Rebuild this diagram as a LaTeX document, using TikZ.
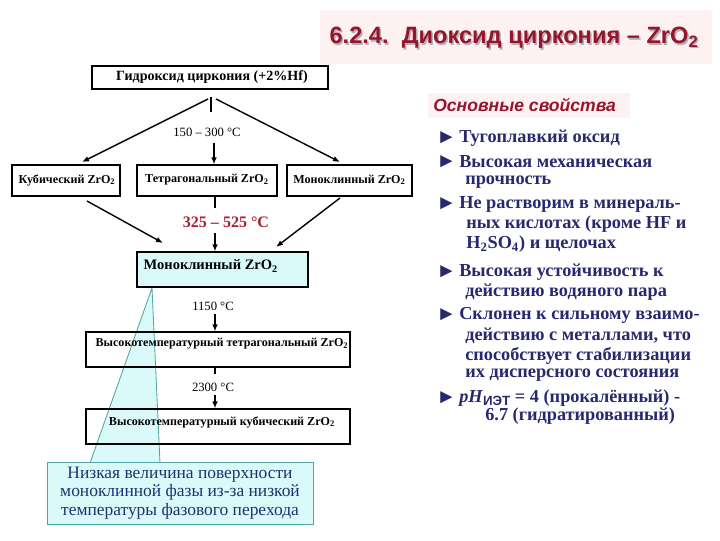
\documentclass[tikz,border=0pt]{standalone}
\usepackage{fontspec}
\setmainfont{Liberation Serif}[BoldFont={Liberation Serif Bold}, ItalicFont={Liberation Serif Italic}, BoldItalicFont={Liberation Serif Bold Italic}]
\setsansfont{Liberation Sans}[BoldFont={Liberation Sans Bold}, ItalicFont={Liberation Sans Italic}, BoldItalicFont={Liberation Sans Bold Italic}]
\usetikzlibrary{arrows.meta}
\definecolor{titlered}{RGB}{150,20,45}
\definecolor{hotred}{RGB}{170,30,50}
\definecolor{pinkbg}{RGB}{253,241,241}
\definecolor{propblue}{RGB}{40,40,110}
\definecolor{noteblue}{RGB}{30,50,115}
\definecolor{cyanfill}{RGB}{218,250,250}
\definecolor{noteline}{RGB}{80,165,165}
\tikzset{
	phasebox/.style={shape=rectangle, draw, line width=0.8pt, inner sep=0pt},
	phasetext/.style={anchor=center, align=center, inner sep=1pt, font=\fontsize{8.6}{10}\selectfont\bfseries},
	templabel/.style={anchor=center, inner sep=1pt, font=\fontsize{9}{11}\selectfont},
	wire/.style={line width=1pt},
	wirearrow/.style={line width=1pt, -{Latex[length=5pt,width=4pt]}},
	propbullet/.style={anchor=west, inner sep=0pt, text=propblue, font=\fontsize{14.5}{16}\selectfont},
	propline/.style={anchor=west, inner sep=0pt, text=propblue, font=\fontsize{13}{15}\selectfont\bfseries},
}
\begin{document}
\begin{tikzpicture}[x=0.025cm, y=-0.025cm]
	\useasboundingbox (0,0) rectangle (720,540);
	% Headings:
	\fill[pinkbg] (320,10) rectangle (712,64);
	\node[anchor=center, inner sep=0pt, text=black!30, font=\fontsize{16.8}{20}\selectfont\sffamily\bfseries] (titleshade) at (515.5,39.5) {6.2.4.\ \ Диоксид циркония – ZrO\textsubscript{2}};
	\node[anchor=center, inner sep=0pt, text=titlered, font=\fontsize{16.8}{20}\selectfont\sffamily\bfseries] (title) at (514,38) {6.2.4.\ \ Диоксид циркония – ZrO\textsubscript{2}};
	\fill[pinkbg] (428,93) rectangle (630,118);
	\node[anchor=west, inner sep=0pt, text=titlered, font=\fontsize{12.5}{15}\selectfont\sffamily\bfseries\itshape] (propshead) at (433,105) {Основные свойства};
	% Callout pointer:
	\coordinate (notetip) at (152,288);
	\coordinate (notebaseL) at (90,463);
	\coordinate (notebaseR) at (160,463);
	\filldraw[fill=cyanfill, draw=noteline, line width=0.6pt] (notetip) -- (notebaseL) -- (notebaseR) -- cycle;
	% Paths, nodes and wires:
	\node[phasebox, minimum width=5.9cm, minimum height=0.575cm] (hydroxide) at (210,77.5){} node[phasetext, font=\fontsize{10}{12}\selectfont\bfseries] (hydroxidetxt) at (212,77){Гидроксид циркония (+2\%Hf)};
	\node[phasebox, minimum width=2.7cm, minimum height=0.775cm] (cubic) at (66,180.5){} node[phasetext] (cubictxt) at (67,180){Кубический ZrO\textsubscript{2}};
	\node[phasebox, minimum width=3.5cm, minimum height=0.775cm] (tetra) at (207,180.5){} node[phasetext] (tetratxt) at (207,180){Тетрагональный ZrO\textsubscript{2}};
	\node[phasebox, minimum width=3.125cm, minimum height=0.775cm] (mono) at (349.5,180.5){} node[phasetext] (monotxt) at (349.5,180){Моноклинный ZrO\textsubscript{2}};
	\node[phasebox, fill=cyanfill, minimum width=4.275cm, minimum height=0.875cm] (monostable) at (222.5,269.5){} node[phasetext, anchor=west, font=\fontsize{10.3}{12}\selectfont\bfseries] (monostabletxt) at (142,266){Моноклинный ZrO\textsubscript{2}};
	\node[phasebox, minimum width=6.6cm, minimum height=0.875cm] (httetra) at (218,349.5){} node[phasetext] (httetratxt) at (222,344){Высокотемпературный тетрагональный ZrO\textsubscript{2}};
	\node[phasebox, minimum width=6.6cm, minimum height=0.875cm] (htcubic) at (218,426.5){} node[phasetext] (htcubictxt) at (222,422){Высокотемпературный кубический ZrO\textsubscript{2}};
	\node[templabel] (t150) at (207,132){150 – 300 °C};
	\node[templabel, text=hotred, font=\fontsize{11.4}{13}\selectfont\bfseries] (t325) at (226,222){325 – 525 °C};
	\node[templabel] (t1150) at (213,306){1150 °C};
	\node[templabel] (t2300) at (213,387){2300 °C};
	\coordinate (forktop) at (211,97);
	\coordinate (forkend) at (211,112);
	\coordinate (forkL) at (208,99);
	\coordinate (forkR) at (216,99);
	\coordinate (cubictip) at (82,162);
	\coordinate (monotip) at (340,162);
	\draw[wire] (forktop) -- (forkend);
	\draw[wirearrow] (forkL) -- (cubictip);
	\draw[wirearrow] (forkR) -- (monotip);
	\draw[wirearrow] (t150.south -| tetra.north) ++(7,5) -- ([xshift=7*0.025cm]tetra.north);
	\coordinate (cubicout) at (87,201);
	\coordinate (cubicin) at (163,243);
	\coordinate (monoout) at (340,198);
	\coordinate (monoin) at (276,247);
	\draw[wirearrow] (cubicout) -- (cubicin);
	\draw[wirearrow] (monoout) -- (monoin);
	\coordinate (tetraout) at (215,197);
	\coordinate (tetrastop) at (215,208);
	\coordinate (t325out) at (215,233);
	\draw[wire] (tetraout) -- (tetrastop);
	\draw[wirearrow] (t325out) -- (monostable.north -| t325out);
	\coordinate (t1150out) at (215,314);
	\draw[wirearrow] (t1150out) -- (httetra.north -| t1150out);
	\coordinate (httetraout) at (215,368);
	\coordinate (httetrastop) at (215,374);
	\coordinate (t2300out) at (215,395);
	\draw[wire] (httetraout) -- (httetrastop);
	\draw[wirearrow] (t2300out) -- (htcubic.north -| t2300out);
	% Callout:
	\node[shape=rectangle, fill=cyanfill, draw=noteline, line width=0.6pt, minimum width=6.65cm, minimum height=1.55cm, align=center, text=noteblue, font=\fontsize{12.4}{13.1}\selectfont] (note) at (180,493){Низкая величина поверхности\\моноклинной фазы из-за низкой\\температуры фазового перехода};
	% Properties:
	\node[propbullet] (b1) at (436,138){►} node[propline] (p1) at (459,138){Тугоплавкий оксид};
	\node[propbullet] (b2) at (436,162){►} node[propline] (p2) at (459,162){Высокая механическая};
	\node[propline] (p2b) at (465,182){прочность};
	\node[propbullet] (b3) at (436,204){►} node[propline] (p3) at (459,204){Не растворим в минераль-};
	\node[propline] (p3b) at (466,224){ных кислотах (кроме HF и};
	\node[propline] (p3c) at (466,244){H\textsubscript{2}SO\textsubscript{4}) и щелочах};
	\node[propbullet] (b4) at (436,272){►} node[propline] (p4) at (459,272){Высокая устойчивость к};
	\node[propline] (p4b) at (465,292){действию водяного пара};
	\node[propbullet] (b5) at (436,315){►} node[propline] (p5) at (459,315){Склонен к сильному взаимо-};
	\node[propline] (p5b) at (465,336){действию с металлами, что};
	\node[propline] (p5c) at (465,356){способствует стабилизации};
	\node[propline] (p5d) at (465,375){их дисперсного состояния};
	\node[propbullet] (b6) at (436,398){►} node[propline] (p6) at (459,398){\textit{pH}\raisebox{-0.35ex}{\fontsize{9.5}{11}\selectfont\sffamily ИЭТ} = 4 (прокалённый) -};
	\node[propline] (p6b) at (485,416){6.7 (гидратированный)};
\end{tikzpicture}
\end{document}
